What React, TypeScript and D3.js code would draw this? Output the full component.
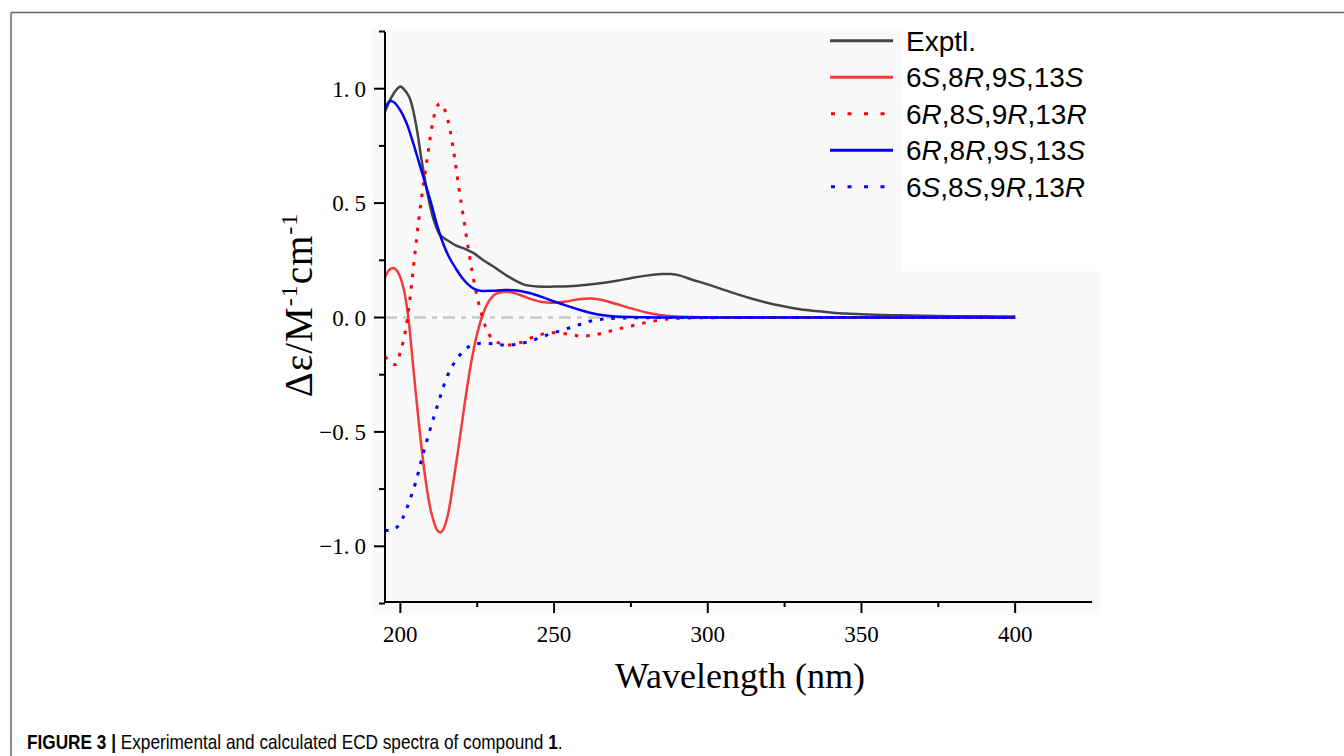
import React, { useLayoutEffect, useRef, useState } from 'react';
import * as d3 from 'd3';

// wavelength (nm), delta epsilon
const exptl: [number, number][] = [
  [195, 0.9], [197, 0.96], [199, 1.0], [200, 1.01], [201, 1.0], [203, 0.96], [205, 0.85],
  [207, 0.68], [209, 0.53], [211, 0.42], [213, 0.36], [215, 0.34], [218, 0.315], [221, 0.3],
  [224, 0.28], [227, 0.25], [230, 0.225], [235, 0.18], [240, 0.145], [245, 0.135], [250, 0.135],
  [255, 0.137], [260, 0.142], [265, 0.15], [270, 0.16], [275, 0.172], [280, 0.183], [285, 0.19],
  [288, 0.19], [291, 0.183], [295, 0.165], [300, 0.145], [305, 0.122], [310, 0.1], [315, 0.08],
  [320, 0.062], [325, 0.048], [330, 0.036], [335, 0.028], [340, 0.022], [345, 0.017], [350, 0.014],
  [360, 0.01], [370, 0.008], [380, 0.006], [390, 0.005], [400, 0.004],
];

const calc6S8R9S13S: [number, number][] = [
  [195, 0.175], [196.5, 0.21], [198, 0.215], [199.5, 0.19], [201, 0.13], [202.5, 0.01],
  [204, -0.19], [206, -0.46], [208, -0.69], [210, -0.85], [212, -0.93], [213, -0.94],
  [214, -0.925], [215.5, -0.86], [217, -0.74], [219, -0.56], [221, -0.37], [223, -0.2],
  [225, -0.07], [227, 0.02], [229, 0.075], [231, 0.103], [234, 0.113], [237, 0.107],
  [240, 0.093], [243, 0.078], [246, 0.068], [250, 0.065], [254, 0.07], [258, 0.08],
  [262, 0.083], [266, 0.075], [270, 0.06], [275, 0.04], [280, 0.022], [285, 0.01],
  [290, 0.004], [300, 0.001], [310, 0], [350, 0], [400, 0],
];

const calc6R8S9R13R: [number, number][] = [
  [195, -0.17], [197, -0.2], [198.5, -0.205], [200, -0.15], [201.5, -0.07], [203, 0.07],
  [204.5, 0.25], [206, 0.43], [207.5, 0.58], [209, 0.72], [210.5, 0.85], [212, 0.925],
  [213, 0.935], [214.5, 0.905], [216, 0.83], [217.5, 0.71], [219, 0.57], [220.5, 0.44],
  [222, 0.31], [223.5, 0.19], [225, 0.09], [226.5, 0.01], [228, -0.05], [230, -0.095],
  [233, -0.115], [236, -0.12], [239, -0.11], [242, -0.092], [245, -0.077], [248, -0.068],
  [252, -0.068], [256, -0.076], [259, -0.082], [263, -0.076], [267, -0.064], [271, -0.05],
  [275, -0.037], [280, -0.022], [285, -0.01], [290, -0.004], [300, -0.001], [310, 0],
  [350, 0], [400, 0],
];

const calc6R8R9S13S: [number, number][] = [
  [195, 0.91], [196.5, 0.945], [198, 0.94], [200, 0.905], [202, 0.85], [204, 0.77],
  [206, 0.68], [208, 0.59], [210, 0.5], [212, 0.4], [214, 0.32], [216, 0.26], [218, 0.215],
  [220, 0.175], [222, 0.145], [224, 0.125], [226, 0.117], [230, 0.117], [234, 0.12],
  [238, 0.118], [242, 0.107], [246, 0.09], [250, 0.07], [254, 0.052], [258, 0.035],
  [262, 0.02], [266, 0.01], [270, 0.004], [280, 0.001], [290, 0], [350, 0], [400, 0],
];

const calc6S8S9R13R: [number, number][] = [
  [195, -0.93], [197, -0.93], [199, -0.915], [201, -0.87], [203, -0.8], [205, -0.72],
  [207, -0.615], [209, -0.52], [211, -0.43], [213, -0.345], [215, -0.265], [217, -0.21],
  [219, -0.17], [221, -0.14], [223, -0.122], [226, -0.113], [230, -0.115], [234, -0.12],
  [238, -0.117], [241, -0.108], [244, -0.095], [247, -0.08], [250, -0.066], [254, -0.05],
  [258, -0.032], [262, -0.015], [266, -0.007], [270, -0.003], [280, -0.001], [290, 0],
  [350, 0], [400, 0],
];

const xTicks = [200, 225, 250, 275, 300, 325, 350, 375, 400];
const yTicks = [-1.25, -1.0, -0.75, -0.5, -0.25, 0, 0.25, 0.5, 0.75, 1.0, 1.25];

// label parts: [text, italic]
const series = [
  { name: 'Exptl.', parts: [['Exptl.', false]], data: exptl, color: '#444444', dotted: false },
  { name: '6S,8R,9S,13S', parts: [['6', false], ['S', true], [',8', false], ['R', true], [',9', false], ['S', true], [',13', false], ['S', true]], data: calc6S8R9S13S, color: '#f43b3b', dotted: false },
  { name: '6R,8S,9R,13R', parts: [['6', false], ['R', true], [',8', false], ['S', true], [',9', false], ['R', true], [',13', false], ['R', true]], data: calc6R8S9R13R, color: '#ff0000', dotted: true },
  { name: '6R,8R,9S,13S', parts: [['6', false], ['R', true], [',8', false], ['R', true], [',9', false], ['S', true], [',13', false], ['S', true]], data: calc6R8R9S13S, color: '#0000ff', dotted: false },
  { name: '6S,8S,9R,13R', parts: [['6', false], ['S', true], [',8', false], ['S', true], [',9', false], ['R', true], [',13', false], ['R', true]], data: calc6S8S9R13R, color: '#0000ff', dotted: true },
] as const;

const App = () => {
  const width = 1344;
  const height = 756;
  const left = 385, right = 1092, top = 32, bottom = 602;

  const captionRef = useRef<SVGTextElement>(null);
  const [capScale, setCapScale] = useState(1);

  useLayoutEffect(() => {
    if (!captionRef.current) return;
    const len = captionRef.current.getComputedTextLength();
    if (len > 0) setCapScale(536 / len);
  }, []);

  const x = d3.scaleLinear().domain([195, 425]).range([left, right]);
  const y = d3.scaleLinear().domain([-1.25, 1.25]).range([603.5, 31.5]);

  const line = d3.line<[number, number]>()
    .x(d => x(d[0]))
    .y(d => y(d[1]))
    .curve(d3.curveCatmullRom.alpha(0.5));

  const serif = '"Liberation Serif", "Times New Roman", serif';
  const sans = '"Liberation Sans", Arial, sans-serif';

  return (
    <svg width={width} height={height} style={{ position: 'absolute', left: 0, top: 0, background: '#fff' }}>
      {/* figure frame */}
      <line x1={11} y1={12.5} x2={1344} y2={12.5} stroke="#666" strokeWidth={1.5} />
      <line x1={11} y1={12.5} x2={11} y2={756} stroke="#666" strokeWidth={1.5} />

      {/* plot background */}
      <rect x={372} y={28} width={728} height={587} fill="#f9f9f9" />
      <rect x={903} y={28} width={197} height={243} fill="#ffffff" />

      {/* zero reference */}
      <line x1={x(195)} x2={x(400)} y1={y(0)} y2={y(0)} stroke="#c8c8c8" strokeWidth={2.5} strokeDasharray="12 6 5 6" />

      {/* curves */}
      {series.map(s => (
        <path
          key={s.name}
          d={line(s.data as unknown as [number, number][]) || ''}
          fill="none"
          stroke={s.color}
          strokeWidth={s.dotted ? 3 : 2.5}
          strokeDasharray={s.dotted ? '3.5 8' : undefined}
        />
      ))}

      {/* axes */}
      <line x1={left} x2={left} y1={top} y2={bottom + 1} stroke="#000" strokeWidth={2} />
      <line x1={left - 1} x2={right} y1={bottom} y2={bottom} stroke="#000" strokeWidth={2} />

      {yTicks.map(t => {
        const major = Math.abs((t * 2) % 1) < 1e-9;
        const s = Math.abs(t).toFixed(1);
        return (
          <g key={t}>
            <line x1={left - (major ? 11 : 6)} x2={left} y1={y(t)} y2={y(t)} stroke="#000" strokeWidth={2} />
            {major && Math.abs(t) <= 1 && (
              <text x={366} y={y(t) + 8} textAnchor="end" fontFamily={serif} fontSize={23} fill="#000">
                {(t < 0 ? '\u2212' : '') + s.slice(0, 2)}<tspan dx={5}>{s.slice(2)}</tspan>
              </text>
            )}
          </g>
        );
      })}

      {xTicks.map(t => {
        const major = t % 50 === 0;
        return (
          <g key={t}>
            <line x1={x(t)} x2={x(t)} y1={bottom} y2={bottom + (major ? 11 : 5)} stroke="#000" strokeWidth={2} />
            {major && (
              <text x={x(t)} y={642} textAnchor="middle" fontFamily={serif} fontSize={23} fill="#000">
                {t}
              </text>
            )}
          </g>
        );
      })}

      {/* axis titles */}
      <text x={740} y={688} textAnchor="middle" fontFamily={serif} fontSize={36} fill="#000">
        Wavelength (nm)
      </text>
      <text transform="translate(312,305) rotate(-90)" textAnchor="middle" fontFamily={serif} fontSize={39} letterSpacing={1} fill="#000">
        Δε/M<tspan fontSize={24} dy={-15}>-1</tspan><tspan dy={15}>cm</tspan><tspan fontSize={24} dy={-15}>-1</tspan>
      </text>

      {/* legend */}
      {series.map((s, i) => {
        const cy = 40.7 + i * 36.5;
        return (
          <g key={s.name}>
            <line
              x1={830} x2={893} y1={cy} y2={cy}
              stroke={s.color}
              strokeWidth={3}
              strokeDasharray={s.dotted ? '4 12.5' : undefined}
              strokeDashoffset={s.dotted ? -1 : 0}
            />
            <text x={906} y={cy + 10} fontFamily={sans} fontSize={28} fill="#000">
              {s.parts.map(([txt, it], j) => (
                <tspan key={j} fontStyle={it ? 'italic' : 'normal'}>{txt}</tspan>
              ))}
            </text>
          </g>
        );
      })}

      {/* caption */}
      <g transform={`translate(27,749) scale(${capScale},1)`}>
        <text ref={captionRef} x={0} y={0} fontFamily={sans} fontSize={21} fill="#000">
          <tspan fontWeight="bold">FIGURE 3 | </tspan>
          <tspan>Experimental and calculated ECD spectra of compound </tspan>
          <tspan fontWeight="bold">1</tspan>
          <tspan>.</tspan>
        </text>
      </g>
    </svg>
  );
};

export default App;
